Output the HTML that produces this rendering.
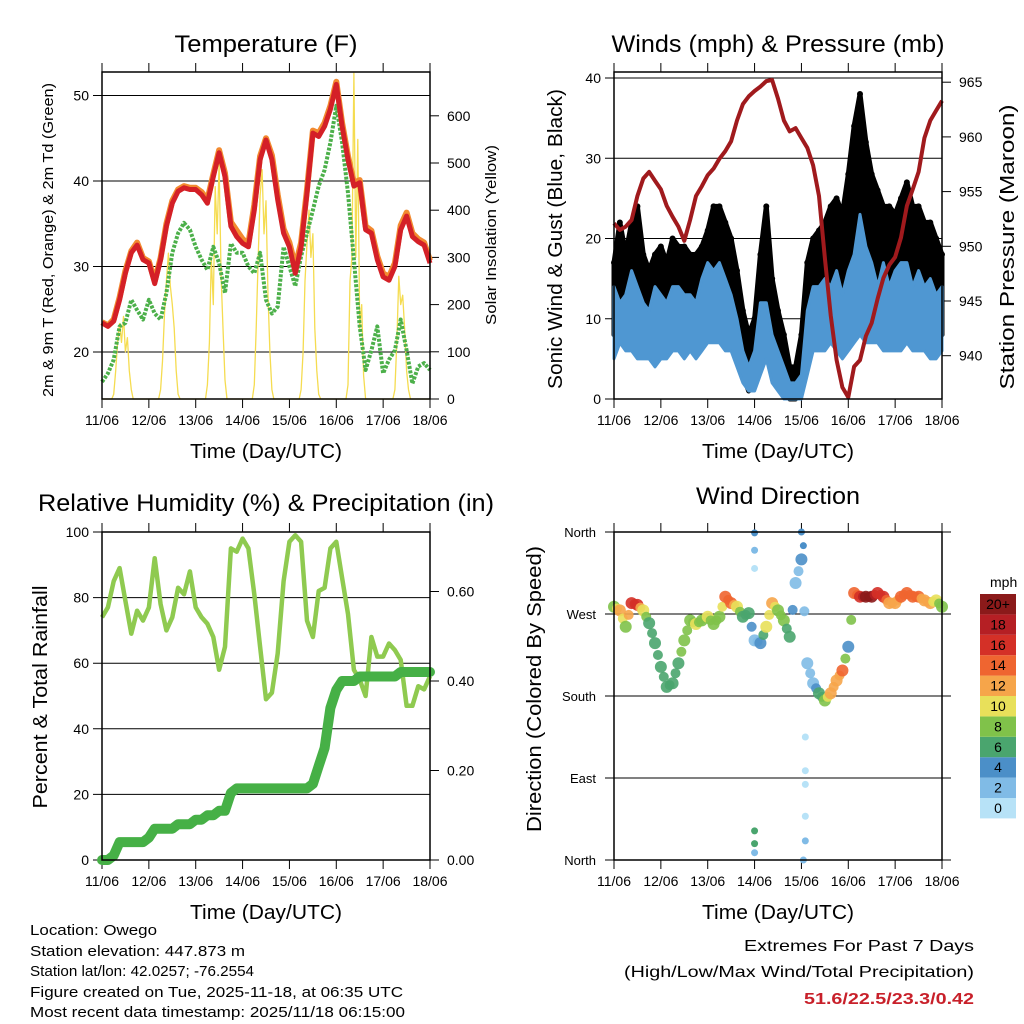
<!DOCTYPE html>
<html><head><meta charset="utf-8"><style>
html,body{margin:0;padding:0;background:#fff;}
svg{display:block;font-family:"Liberation Sans",Arial,sans-serif;}
</style></head><body>
<svg id="root" width="1024" height="1024" viewBox="0 0 1024 1024" xmlns="http://www.w3.org/2000/svg">
<g id="static" font-size="14" fill="#000">
  <text x="266" y="52" font-size="24" text-anchor="middle" textLength="183" lengthAdjust="spacingAndGlyphs">Temperature (F)</text>
  <text x="778" y="52" font-size="24" text-anchor="middle" textLength="333" lengthAdjust="spacingAndGlyphs">Winds (mph) &amp; Pressure (mb)</text>
  <text x="266" y="511" font-size="24" text-anchor="middle" textLength="456" lengthAdjust="spacingAndGlyphs">Relative Humidity (%) &amp; Precipitation (in)</text>
  <text x="778" y="504" font-size="24" text-anchor="middle" textLength="164" lengthAdjust="spacingAndGlyphs">Wind Direction</text>
  <text x="266" y="458" font-size="20" text-anchor="middle" textLength="152" lengthAdjust="spacingAndGlyphs">Time (Day/UTC)</text>
  <text x="778" y="458" font-size="20" text-anchor="middle" textLength="152" lengthAdjust="spacingAndGlyphs">Time (Day/UTC)</text>
  <text x="266" y="919" font-size="20" text-anchor="middle" textLength="152" lengthAdjust="spacingAndGlyphs">Time (Day/UTC)</text>
  <text x="778" y="919" font-size="20" text-anchor="middle" textLength="152" lengthAdjust="spacingAndGlyphs">Time (Day/UTC)</text>
  <text transform="translate(53,240) rotate(-90)" font-size="15" text-anchor="middle" textLength="314" lengthAdjust="spacingAndGlyphs">2m &amp; 9m T (Red, Orange) &amp; 2m Td (Green)</text>
  <text transform="translate(496,235) rotate(-90)" font-size="15" text-anchor="middle" textLength="180" lengthAdjust="spacingAndGlyphs">Solar Insolation (Yellow)</text>
  <text transform="translate(562,239) rotate(-90)" font-size="20" text-anchor="middle" textLength="300" lengthAdjust="spacingAndGlyphs">Sonic Wind &amp; Gust (Blue, Black)</text>
  <text transform="translate(1014,247) rotate(-90)" font-size="20" text-anchor="middle" textLength="285" lengthAdjust="spacingAndGlyphs">Station Pressure (Maroon)</text>
  <text transform="translate(47,697) rotate(-90)" font-size="20" text-anchor="middle" textLength="223" lengthAdjust="spacingAndGlyphs">Percent &amp; Total Rainfall</text>
  <text transform="translate(541,689) rotate(-90)" font-size="20" text-anchor="middle" textLength="286" lengthAdjust="spacingAndGlyphs">Direction (Colored By Speed)</text>
  <g font-size="15">
    <text x="30" y="935" textLength="127" lengthAdjust="spacingAndGlyphs">Location: Owego</text>
    <text x="30" y="956" textLength="215" lengthAdjust="spacingAndGlyphs">Station elevation: 447.873 m</text>
    <text x="30" y="976" textLength="224" lengthAdjust="spacingAndGlyphs">Station lat/lon: 42.0257; -76.2554</text>
    <text x="30" y="997" textLength="373" lengthAdjust="spacingAndGlyphs">Figure created on Tue, 2025-11-18, at 06:35 UTC</text>
    <text x="30" y="1017" textLength="375" lengthAdjust="spacingAndGlyphs">Most recent data timestamp: 2025/11/18 06:15:00</text>
  </g>
  <g font-size="16" text-anchor="end">
    <text x="974" y="951" textLength="230" lengthAdjust="spacingAndGlyphs">Extremes For Past 7 Days</text>
    <text x="974" y="977" textLength="350" lengthAdjust="spacingAndGlyphs">(High/Low/Max Wind/Total Precipitation)</text>
    <text x="974" y="1004" fill="#c8202a" font-weight="bold" textLength="170" lengthAdjust="spacingAndGlyphs">51.6/22.5/23.3/0.42</text>
  </g>
  <text x="990" y="587" font-size="14">mph</text>
</g>
<g id="dyn"></g>
</svg>
<script>
// ---------- data (3-hour samples, 11/06 00Z .. 18/06 00Z) ----------
const dayLabels = ["11/06","12/06","13/06","14/06","15/06","16/06","17/06","18/06"];
const tempTicks = [20,30,40,50];
const solarTicks = [0,100,200,300,400,500,600];
const windTicks = [0,10,20,30,40];
const pressTicks = [940,945,950,955,960,965];
const rhTicks = [0,20,40,60,80,100];
const precipTicks = ["0.00","0.20","0.40","0.60"];
const dirTicks = ["North","East","South","West","North"];
const speedBins = ["0","2","4","6","8","10","12","14","16","18","20+"];
const speedColors = ["#b7e2f7","#80bbe6","#4b8fc8","#4aa56e","#80c24a","#e8e05a","#f6a54a","#ef6530","#d43027","#b51f24","#8b1a1a"];

const temp2m = [23.4,23.0,23.6,26.1,29.2,31.6,32.5,30.8, 30.4,28.0,30.8,34.7,37.4,38.8,39.2,39.0, 39.0,38.4,37.4,40.5,43.3,40.5,34.7,33.5, 32.7,32.3,36.6,42.5,44.8,42.5,37.8,33.9, 32.3,29.2,32.3,38.6,45.6,45.2,46.4,48.4, 51.3,46.4,42.5,39.4,39.8,34.3,33.9,30.8, 28.8,28.4,30.0,34.3,35.9,33.5,32.9,32.5,30.4];
const temp9m = [23.5,23.1,23.8,26.4,29.5,31.8,32.8,31.0, 30.6,28.3,31.0,35.0,37.7,39.0,39.4,39.2, 39.2,38.7,37.8,40.8,43.6,40.9,35.2,34.2, 33.2,32.7,37.2,42.9,45.0,43.0,38.4,34.4, 32.8,30.0,32.8,39.0,45.9,45.6,46.8,48.8, 51.6,46.8,42.9,39.8,40.1,34.7,34.2,31.2, 29.2,28.8,30.4,34.8,36.3,33.9,33.2,32.8,30.7];
const dewPoint = [16.5,17.5,19.1,23.0,23.4,26.1,24.9,23.8, 26.1,24.5,23.8,26.9,31.6,33.9,35.1,34.3, 32.3,30.8,29.6,32.3,30.4,26.9,32.7,31.6, 31.6,30.0,29.2,31.6,26.1,24.5,25.3,32.3, 30.0,27.7,31.2,33.9,36.6,39.4,41.3,44.5, 48.8,44.5,38.6,30.8,23.0,17.9,20.2,23.0, 17.5,19.1,20.2,23.8,20.2,16.3,18.3,18.7,17.9];
// hourly solar insolation (W/m2), one row per day, hours 0..23
const solarDay0 = [0,0,0,0,0,0,10,60,120,160,120,175,100,130,60,20,0,0,0,0,0,0,0,0];
const solarDay1 = [0,0,0,0,0,0,20,80,180,250,309,240,200,150,60,10,0,0,0,0,0,0,0,0];
const solarDay2 = [0,0,0,0,0,0,30,120,300,200,450,350,500,260,150,40,0,0,0,0,0,0,0,0];
const solarDay3 = [0,0,0,0,0,0,30,150,300,430,486,350,420,220,100,20,0,0,0,0,0,0,0,0];
const solarDay4 = [0,0,0,0,0,0,20,100,250,330,400,300,350,150,60,10,0,0,0,0,0,0,0,0];
const solarDay5 = [0,0,0,0,0,0,30,250,300,690,300,550,150,200,50,0,0,0,0,0,0,0,0,0];
const solarDay6 = [0,0,0,0,0,0,20,120,260,200,220,150,60,20,0,0,0,0,0,0,0,0,0,0];

const pressure = [952.1,951.5,951.8,952.4,954.6,956.2,956.8,956.0, 955.2,953.7,952.7,951.8,950.5,952.4,954.6,955.5, 956.5,957.1,958.0,958.7,959.6,961.5,963.0,963.7, 964.2,964.6,965.1,965.2,963.5,961.5,960.5,960.8, 959.9,959.0,957.4,954.6,948.9,943.7,939.6,937.1, 936.2,939.0,939.6,941.8,943.0,945.2,947.1,948.3, 949.0,950.8,953.7,955.2,956.8,959.9,961.5,962.4,963.3];
const windLo = [5,7,6,6,5,5,5,4, 5,5,6,6,5,6,5,6, 7,7,7,6,6,4,2,1, 1,3,5,2,1,0,0,0, 0,3,6,6,6,7,6,5, 6,7,8,7,7,7,6,6, 6,6,7,6,6,6,5,5,6];
const windHi = [14,12,13,16,14,12,11,14, 13,12,14,14,13,13,12,15, 17,16,17,15,13,10,6,4, 6,12,12,8,6,4,2,2, 3,11,14,14,15,14,16,13, 16,18,23,19,17,14,17,14, 16,17,17,14,16,14,15,13,14];
const gustLo = [8,10,10,9,9,8,8,8, 9,8,9,10,9,9,8,10, 11,11,12,10,9,7,3,1, 2,6,8,4,2,1,0,0, 1,6,10,10,10,10,10,9, 11,12,13,12,12,10,10,10, 10,10,11,10,10,10,9,8,8];
const gustHi = [17,22,18,22,24,18,16,18, 19,17,20,19,19,18,18,19, 21,24,24,22,20,16,11,8, 10,18,24,15,11,8,4,4, 8,17,20,21,22,24,25,23, 28,34,38,32,28,26,24,24, 23,25,27,24,24,22,22,20,18];

const rh = [74,77,85,89,79,69,76,73, 77,92,78,70,74,83,81,88, 77,74,72,68,58,65,95,94, 98,95,81,65,49,51,63,85, 97,99,97,73,68,82,83,95, 97,86,75,58,55,50,68,62, 62,66,64,61,47,47,53,52,56];
const precip = [0,0,0.01,0.04,0.04,0.04,0.04,0.04, 0.05,0.07,0.07,0.07,0.07,0.08,0.08,0.08, 0.09,0.09,0.10,0.10,0.11,0.11,0.15,0.16, 0.16,0.16,0.16,0.16,0.16,0.16,0.16,0.16, 0.16,0.16,0.16,0.16,0.17,0.21,0.25,0.34, 0.38,0.40,0.40,0.40,0.41,0.41,0.41,0.41, 0.41,0.41,0.41,0.42,0.42,0.42,0.42,0.42,0.42];

const windDir = [278,274,256,282,280,274,260,238, 212,190,194,216,241,263,259,263, 267,259,267,289,282,278,267,271, 241,238,256,282,274,263,245,304, 330,216,194,183,175,183,197,208, 234,293,289,289,289,293,289,282, 282,289,293,289,289,285,282,285,278];
const windSpd = [8,12,9,16,16,10,7,6, 6,6,6,7,9,9,10,8, 10,9,8,15,14,11,7,6, 2,4,10,12,9,8,6,3, 4,2,3,6,8,12,13,14, 5,14,16,20,20,16,17,13, 13,14,15,15,14,13,12,11,8];
const outlierHour = [72,72,72,72,72,72,96,97,98,98,98,98,98,97];
const outlierDir = [359,340,320,32,18,8,360,345,135,98,83,48,21,0];
const outlierSpd = [4,2,1,6,6,3,4,4,1,1,1,1,2,2];

// ---------- scales ----------
const HOURS = 168, STEP = 3;
const P1 = {l:102,r:430,t:72,b:399}, P2 = {l:614,r:942,t:72,b:399}, P3 = {l:102,r:430,t:532,b:860}, P4 = {l:614,r:942,t:532,b:860};
const xs = (p,h) => p.l + h/HOURS*(p.r-p.l);
const yTemp = v => 352 - (v-20)*8.55;
const ySolar = v => 399 - v*0.472;
const yWind = v => 399 - v*8.025;
const yPress = v => 355.7 - (v-940)*10.94;
const yRH = v => 860 - v*3.28;
const yPrecip = v => 860 - v*447.5;
const yDir = v => 860 - v/360*328;

const NS = "http://www.w3.org/2000/svg";
const dyn = document.getElementById("dyn");
function mk(tag, attrs, parent){ const e=document.createElementNS(NS,tag); for(const k in attrs) e.setAttribute(k,attrs[k]); (parent||dyn).appendChild(e); return e; }
function pathFrom(p, arr, yf, step){ return arr.map((v,i)=>(i?"L":"M")+xs(p,i*step).toFixed(1)+","+yf(v).toFixed(1)).join(""); }
function bandFrom(p, lo, hi, yf, step){ let d=hi.map((v,i)=>(i?"L":"M")+xs(p,i*step).toFixed(1)+","+yf(v).toFixed(1)).join(""); for(let i=lo.length-1;i>=0;i--) d+="L"+xs(p,i*step).toFixed(1)+","+yf(lo[i]).toFixed(1); return d+"Z"; }

function frame(p, name){
  for(let d=0; d<dayLabels.length; d++){
    const x = xs(p,d*24);
    const t1 = mk("line",{x1:x,x2:x,y1:p.t-9,y2:p.t,stroke:"#000","stroke-width":1});
    
    
    const t2 = mk("line",{x1:x,x2:x,y1:p.b,y2:p.b+9,stroke:"#000","stroke-width":1});
    
    
    const lb = mk("text",{x:x,y:p.b+26,"font-size":14,"text-anchor":"middle"});
    lb.textContent = dayLabels[d];
    
    
  }
}
function gridLeft(p, name, y, label){
  const g = mk("line",{x1:p.l-9,x2:p.r,y1:y,y2:y,stroke:"#000","stroke-width":1});
  
  
  const t = mk("text",{x:p.l-13,y:y+5,"font-size":14,"text-anchor":"end"});
  t.textContent = label;
  
  
}
function tickRight(p, name, y, label){
  const g = mk("line",{x1:p.r,x2:p.r+9,y1:y,y2:y,stroke:"#000","stroke-width":1});
  
  
  const t = mk("text",{x:p.r+17,y:y+5,"font-size":14});
  t.textContent = label;
  
  
}
function box(p, name){
  const r = mk("rect",{x:p.l,y:p.t,width:p.r-p.l,height:p.b-p.t,fill:"none",stroke:"#000","stroke-width":1.5});
  
  
}

// ---------- panel 1: temperature ----------
frame(P1,"temp");
tempTicks.forEach(v=>gridLeft(P1,"temp",yTemp(v),String(v)));
solarTicks.forEach(v=>tickRight(P1,"solar",ySolar(v),String(v)));
const solarAll = [solarDay0,solarDay1,solarDay2,solarDay3,solarDay4,solarDay5,solarDay6].flat();
solarAll.push(0);
const solarLine = mk("path",{d:pathFrom(P1,solarAll,ySolar,1),fill:"none",stroke:"#f5dc50","stroke-width":1.3,"stroke-linejoin":"round"});


const dewLine = mk("path",{d:pathFrom(P1,dewPoint,yTemp,STEP),fill:"none",stroke:"#4cb04a","stroke-width":4,"stroke-dasharray":"3 1.5","stroke-linejoin":"round"});


const t9Line = mk("path",{d:pathFrom(P1,temp9m,yTemp,STEP),fill:"none",stroke:"#f28a30","stroke-width":6,"stroke-linejoin":"round"});


const t2Line = mk("path",{d:pathFrom(P1,temp2m,yTemp,STEP),fill:"none",stroke:"#d42027","stroke-width":5,"stroke-linejoin":"round"});


box(P1,"temp");

// ---------- panel 2: winds & pressure ----------
frame(P2,"winds");
windTicks.forEach(v=>gridLeft(P2,"winds",yWind(v),String(v)));
pressTicks.forEach(v=>tickRight(P2,"pressure",yPress(v),String(v)));
const gustBand = mk("path",{d:bandFrom(P2,gustLo,gustHi,yWind,STEP),fill:"#000",stroke:"#000","stroke-width":5,"stroke-linejoin":"round"});


gustHi.forEach((v,i)=>{
  const c = mk("circle",{cx:xs(P2,i*STEP),cy:yWind(v),r:3,fill:"#000"});
  
  
});
const windBand = mk("path",{d:bandFrom(P2,windLo,windHi,yWind,STEP),fill:"#4f97d2",stroke:"#4f97d2","stroke-width":3,"stroke-linejoin":"round"});


const pLine = mk("path",{d:pathFrom(P2,pressure,yPress,STEP),fill:"none",stroke:"#a01a1d","stroke-width":4,"stroke-linejoin":"round"});


box(P2,"winds");

// ---------- panel 3: RH & precip ----------
frame(P3,"humidity");
rhTicks.forEach(v=>gridLeft(P3,"humidity",yRH(v),String(v)));
precipTicks.forEach(v=>tickRight(P3,"precip",yPrecip(parseFloat(v)),v));
const rhLine = mk("path",{d:pathFrom(P3,rh,yRH,STEP),fill:"none",stroke:"#8fca50","stroke-width":4.5,"stroke-linejoin":"round"});


const prLine = mk("path",{d:pathFrom(P3,precip,yPrecip,STEP),fill:"none",stroke:"#46b046","stroke-width":10,"stroke-linejoin":"round","stroke-linecap":"round"});


box(P3,"humidity");

// ---------- panel 4: wind direction ----------
frame(P4,"direction");
dirTicks.forEach((lab,i)=>{
  const y = yDir(i*90);
  const g = mk("line",{x1:P4.l-9,x2:P4.r+9,y1:y,y2:y,stroke:"#000","stroke-width":1});
  
  
  const t = mk("text",{x:P4.l-18,y:y+5,"font-size":13,"text-anchor":"end"});
  t.textContent = lab;
  
  
});
const colorOf = s => speedColors[Math.min(10,Math.max(0,Math.floor(s/2)))];
windDir.forEach((d,i)=>{
  const c = mk("circle",{cx:xs(P4,i*STEP),cy:yDir(d),r:6,fill:colorOf(windSpd[i]),"fill-opacity":0.9});
  
  
  if(i<windDir.length-1){
    const c2 = mk("circle",{cx:xs(P4,i*STEP+1.5),cy:yDir((d+windDir[i+1])/2),r:5,fill:colorOf((windSpd[i]+windSpd[i+1])/2),"fill-opacity":0.9});
    
    
  }
});
outlierDir.forEach((d,i)=>{
  const c = mk("circle",{cx:xs(P4,outlierHour[i]),cy:yDir(d),r:3.5,fill:colorOf(outlierSpd[i])});
  
  
});
box(P4,"direction");

// colorbar
speedBins.forEach((lab,i)=>{
  const k = speedBins.length-1-i;
  const y = 594 + k*20.4;
  const r = mk("rect",{x:980,y:y,width:36,height:20.4,fill:speedColors[i]});
  
  
  const t = mk("text",{x:998,y:y+15,"font-size":14,"text-anchor":"middle"});
  t.textContent = lab;
  
  
});
</script>
</body></html>
